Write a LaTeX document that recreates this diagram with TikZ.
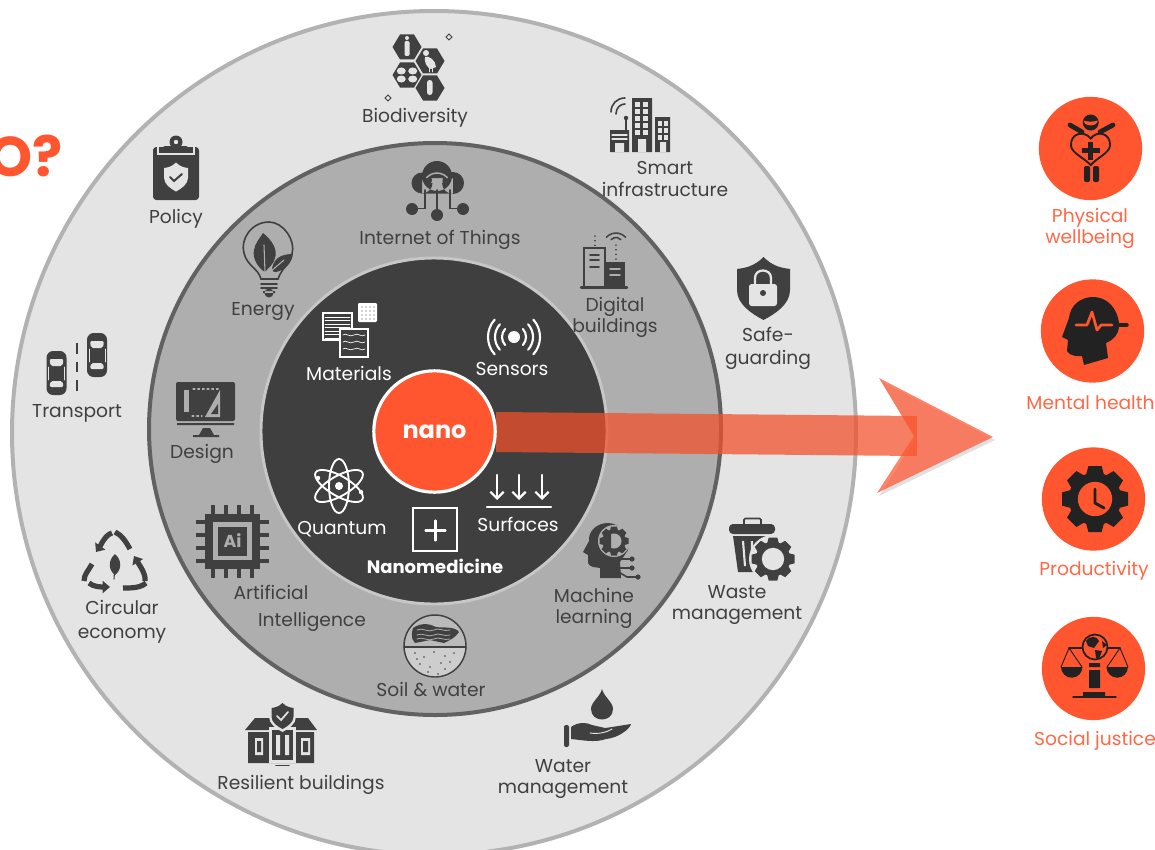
\documentclass[tikz,border=0pt]{standalone}
\usepackage{fontspec}
\setmainfont{Poppins}
\usetikzlibrary{arrows.meta}
\definecolor{nanoor}{HTML}{FF5630}
\definecolor{shaftor}{HTML}{F2512C}
\definecolor{ringa}{HTML}{E4E4E4}
\definecolor{ringb}{HTML}{AEAEAE}
\definecolor{ringc}{HTML}{3F3F3F}
\definecolor{icondk}{HTML}{404040}
\definecolor{iconbk}{HTML}{222222}
\newcommand{\gearshape}[5]{% x, y, radius, hole colour, gear colour
 \begin{scope}[shift={(#1,#2)},scale=#3]
 \foreach \a in {0,45,...,315}
  \fill[#5,rotate=\a] (-.28,.7)--(-.2,1)--(.2,1)--(.28,.7)--cycle;
 \fill[#5] (0,0) circle[radius=.8];
 \fill[#4] (0,0) circle[radius=.52];
 \end{scope}}
\newcommand{\shieldshape}[5]{% x, y, half width, half height, style
 \fill[#5,shift={(#1,#2)},xscale=#3,yscale=#4] (0,-1) .. controls (.35,-.7) and (.7,-.65) .. (1,-.62)
  -- (1,.05) .. controls (1,.5) and (.45,.8) .. (0,1) .. controls (-.45,.8) and (-1,.5) .. (-1,.05)
  -- (-1,-.62) .. controls (-.7,-.65) and (-.35,-.7) .. (0,-1) -- cycle;}
\newcommand{\wifiarc}[4]{% x, y, radius, style
 \draw[#4] (#1,#2) ++(-138:#3) arc[start angle=-138,end angle=-42,radius=#3];}
\newcommand{\carshape}[2]{% x, y of the centre
 \begin{scope}[shift={(#1,#2)}]
 \fill[icondk,rounded corners=5] (-10,-22) rectangle (10,22);
 \fill[ringa,rounded corners=1.5] (-7,-14) -- (7,-14) -- (6,-7) -- (-6,-7) -- cycle;
 \fill[ringa,rounded corners=1.5] (-6,8) -- (6,8) -- (7,14) -- (-7,14) -- cycle;
 \draw[ringa,line width=.6pt] (-8,-6)--(-8,7) (8,-6)--(8,7);
 \end{scope}}
\tikzset{
 lab/.style={font=\fontsize{14}{15.8}\selectfont, text=icondk, align=center, inner sep=0pt},
 inlab/.style={lab, text=white},
 outlab/.style={lab, text=nanoor!90!white},
 ring/.style={line width=3pt},
 thinic/.style={draw=icondk, line width=1.2pt},
 whiteic/.style={draw=white, line width=1.3pt},
 blackic/.style={draw=iconbk, line width=1.2pt},
}
\begin{document}
\begin{tikzpicture}[x=.75pt, y=-.75pt, line cap=round]
\useasboundingbox (0,0) rectangle (1155,849);
% rings
\filldraw[ring, fill=ringa, draw=black!30] (434,433) circle[radius=422];
\filldraw[ring, fill=ringb, draw=black!62] (435,429) circle[radius=286];
\filldraw[line width=2.2pt, fill=ringc, draw=black!22] (434,431) circle[radius=173];
% title rest
\node[anchor=east, inner sep=0pt, text=nanoor] (titleq) at (63,156) {\fontsize{42}{42}\selectfont\bfseries O?};
% arrow
\path[fill=black, opacity=.12] (881,381)--(995,440)--(879,496)--(916,439)--cycle;
\fill[shaftor, fill opacity=.74] (496,412)--(917,416)--(917,456)--(496,452)--cycle;
\fill[nanoor, fill opacity=.72] (879,378)--(993,437)--(877,493)--(914,436)--cycle;
\node[circle, minimum size=91pt, fill=nanoor, draw=white, line width=2.4pt, inner sep=0pt, text=white, font=\fontsize{18}{18}\selectfont] (nano) at (434.5,431.5) {\raisebox{-2pt}{\textbf{nano}}};
% outer ring labels
\node[lab] (biodiv) at (415,118) {Biodiversity};
\node[lab] (smart) at (665,179) {Smart\\infrastructure};
\node[lab] (policy) at (176,219) {Policy};
\node[lab] (safe) at (768,348) {Safe-\\[1.5pt]guarding};
\node[lab] (transport) at (77,413) {Transport};
\node[lab] (waste) at (737,605) {Waste\\management};
\node[lab] (circular) at (122,622) {Circular\\[2pt]economy};
\node[lab] (resilient) at (301,785) {Resilient buildings};
\node[lab] (water) at (563,779) {Water\\management};
% middle ring labels
\node[lab] (iot) at (440,240) {Internet of Things};
\node[lab] (energy) at (263,312) {Energy};
\node[lab] (digital) at (615,317.5) {Digital\\buildings};
\node[lab] (design) at (202,454) {Design};
\node[lab] (artif) at (271,592) {Artificial};
\node[lab] (intel) at (312,622) {Intelligence};
\node[lab] (machine) at (594,608) {Machine\\learning};
\node[lab] (soil) at (431,689) {Soil \& water};
% inner labels
\node[inlab] (materials) at (349,373) {Materials};
\node[inlab] (sensors) at (512,369) {Sensors};
\node[inlab] (quantum) at (342,529) {Quantum};
\node[inlab] (surfaces) at (518,524) {Surfaces};
\node[inlab, font=\fontsize{13.5}{14}\selectfont\bfseries] (nanomed) at (435,566) {Nanomedicine};
% outcome discs and labels
\foreach \nm/\cx/\cy in {physdisc/1090.5/148.5, mentdisc/1092.5/331, proddisc/1093.5/499, socdisc/1093.5/668.5}
 \node[circle, fill=nanoor, minimum size=77.5pt, inner sep=0pt] (\nm) at (\cx,\cy) {};
\node[outlab] (phys) at (1090,228.5) {Physical\\[.5pt]wellbeing};
\node[outlab] (ment) at (1090.5,403) {Mental health};
\node[outlab] (prod) at (1094,571) {Productivity};
\node[outlab] (soc) at (1095,741) {Social justice};

% biodiversity
\foreach \hx/\hy in {407/47,430/61,407/75,430/88}
 \fill[icondk] (\hx-14.5,\hy)--(\hx-7,\hy-12.5)--(\hx+7,\hy-12.5)--(\hx+14.5,\hy)--(\hx+7,\hy+12.5)--(\hx-7,\hy+12.5)--cycle;
\fill[ringa] (407,38) circle[radius=2]; \fill[ringa,rounded corners=1] (404.5,41) rectangle (409.5,56);
\fill[ringa] (426,53) circle[radius=3]; \fill[ringa] (425,57) .. controls (428,55) and (436,60) .. (436,67) -- (431,69) .. controls (427,68) and (424,62) .. (425,57) -- cycle;
\draw[ringa,line width=.7pt] (429,68)--(429,72) (432,68)--(432,72);
\foreach \r in {35,-35,145,215} \fill[ringa] (407,75) ++(\r:7) ellipse[x radius=4.5,y radius=3.5];
\fill[ringa,rounded corners=2] (427,80) rectangle (432.5,95);
\foreach \sx/\sy in {449/37,388/98}
 \draw[icondk,line width=.7pt] (\sx-3,\sy)--(\sx,\sy-3)--(\sx+3,\sy)--(\sx,\sy+3)--cycle;
% smart infrastructure
\fill[icondk] (632,98) rectangle (652,152) (655,117) rectangle (670,152) (610,130) rectangle (629,152);
\foreach \wy in {102,109,116,123,130} \foreach \wx in {635,643} \fill[ringa] (\wx,\wy) rectangle ++(5,4.5);
\foreach \wy in {121,128,135} \foreach \wx in {658,664} \fill[ringa] (\wx,\wy) rectangle ++(4,4.5);
\fill[ringa] (638,139) rectangle (646,152) (660,142) rectangle (666,152) (615,143) rectangle (624,152);
\draw[ringa,line width=1pt] (612,135)--(627,135) (612,139)--(627,139);
\draw[thinic] (626,118)--(626,130); \fill[icondk] (626,118) circle[radius=2.2];
\draw[thinic] (616,114) .. controls (616,108) and (620,104) .. (625,104);
\draw[thinic] (611,112) .. controls (611,104) and (617,98) .. (625,98);
% policy
\fill[icondk,rounded corners=2.5] (153,147) rectangle (199,200);
\draw[ringa,line width=.9pt] (158,147)--(158,154)--(194,154)--(194,147);
\fill[icondk] (176,142) circle[radius=6.5];
\fill[icondk,rounded corners=1.5] (163,146) rectangle (188,152);
\fill[ringa] (176,142) circle[radius=2.2];
\shieldshape{176}{177}{12}{14.5}{ringa}
\draw[icondk,line width=1.5pt] (170,177)--(174,181)--(182,174);
% safe-guarding
\shieldshape{763.5}{288.5}{26.5}{31.5}{icondk}
\fill[ringa,rounded corners=2] (749,284) rectangle (777,306);
\draw[ringa,line width=1.7pt] (755,285)--(755,278) .. controls (755,268) and (771,268) .. (771,278)--(771,285);
\fill[icondk] (763,293) circle[radius=3];
% transport
\carshape{56.5}{373}
\carshape{97}{355}
\draw[thinic, dash pattern=on 8pt off 6pt, line cap=butt] (77,343)--(77,395);
% waste management
\draw[icondk,line width=1.2pt,rounded corners=1] (744,524)--(744,518.5)--(761,518.5)--(761,524);
\fill[icondk,rounded corners=3] (729,524) rectangle (775,534);
\fill[icondk] (733,536)--(772,536)--(766,572)--(738,572)--cycle;
\draw[ringa,line width=1.6pt,line cap=butt] (743,541)--(745,566) (752,541)--(752,560);
\fill[ringa] (773,559) circle[radius=24];
\gearshape{773}{559}{21.5}{ringa}{icondk}
% water management
\fill[icondk] (602,689) .. controls (604,697) and (613,702) .. (613,709) .. controls (613,723) and (591,723) .. (591,709) .. controls (591,702) and (600,697) .. (602,689) -- cycle;
\fill[icondk,rounded corners=1.5] (564,725) rectangle (569,747);
\fill[icondk] (571,727) .. controls (578,722) and (586,722) .. (592,725) -- (605,728) -- (612,727) -- (631,724) .. controls (630,729) and (618,738) .. (606,739) .. controls (595,743) and (582,740) .. (571,739) -- cycle;
\draw[ringa,line width=.7pt] (590,733) .. controls (598,734) and (606,733) .. (612,729);
% resilient buildings
\fill[icondk] (245,730)--(255,718)--(308,718)--(317,730)--cycle (248,732) rectangle (314,763);
\fill[ringa] (255,738) rectangle (263,755) (301,738) rectangle (310,755);
\fill[icondk] (257,741) rectangle (261,752) (303,741) rectangle (308,752);
\fill[ringa] (269,727) rectangle (296,763);
\fill[icondk] (272,730) rectangle (293,760);
\fill[ringa] (276,735) rectangle (280,755) (285,735) rectangle (289,755);
\draw[icondk,line width=1.3pt] (276,765.5)--(289,765.5);
\shieldshape{282.5}{716}{13.5}{16}{ringa}
\shieldshape{282.5}{716}{11}{13}{icondk}
\draw[ringa,line width=1.3pt] (277,716)--(281,720)--(288,712);
% circular economy
\draw[icondk,line width=3.9pt,line cap=butt,-{Triangle[length=5.5pt,width=9pt]}] (112,533) .. controls (105,535) and (101,545) .. (96,552);
\draw[icondk,line width=3.9pt,line cap=butt] (115,532) .. controls (122,535) and (126,542) .. (130,549);
\draw[icondk,line width=3.9pt,line cap=butt,-{Triangle[length=5.5pt,width=9pt]}] (145,581) .. controls (146,574) and (140,566) .. (134,556);
\draw[icondk,line width=3.9pt,line cap=butt] (146,583) .. controls (140,588) and (132,588) .. (123,588);
\draw[icondk,line width=3.9pt,line cap=butt,-{Triangle[length=5.5pt,width=9pt]}] (89,583) .. controls (93,587) and (102,587) .. (110,587);
\draw[icondk,line width=3.9pt,line cap=butt] (92,564) .. controls (89,570) and (84,574) .. (84,581);
\fill[icondk] (115,554) .. controls (122,560) and (122,570) .. (115,575) .. controls (108,570) and (108,560) .. (115,554) -- cycle;
\draw[icondk,line width=.8pt] (115,565)--(114,579);
% internet of things
\fill[icondk] (437,176) circle[radius=15] (422,183) circle[radius=10.5] (453,183) circle[radius=11] (422,178) rectangle (453,193.5);
\draw[thinic] (425,190)--(425,208.5)--(414,208.5) (437,190)--(437,213) (450,190)--(450,208.5)--(461,208.5);
\foreach \cx in {412,437,463} \fill[icondk] (\cx,{\cx==437?215:209}) circle[radius=6];
\fill[ringb] (437,185.5) circle[radius=1.8];
\wifiarc{437}{187}{7}{draw=ringb,line width=1.1pt}
\wifiarc{437}{187}{14}{draw=ringb,line width=1.1pt}
% energy
\draw[thinic] (292,254) .. controls (296,240) and (283,222) .. (269,222) .. controls (251,222) and (240,240) .. (244,253) .. controls (247,266) and (258,268) .. (261,279) -- (278,279) .. controls (280,273) and (284,268) .. (288,263);
\foreach \ly in {284,288} \draw[icondk,line width=1.2pt] (261,\ly)--(277,\ly);
\fill[icondk] (263,291) rectangle (275,293) (269,293) circle[radius=4.5];
\fill[icondk] (263,233) .. controls (272,240) and (278,250) .. (275,258) .. controls (274,264) and (268,268) .. (265,272) .. controls (258,268) and (252,258) .. (254,250) .. controls (255,243) and (260,238) .. (263,233) -- cycle;
\fill[icondk] (293,254) .. controls (292,262) and (286,270) .. (276,272) .. controls (272,272) and (271,270) .. (273,265) .. controls (276,256) and (285,254) .. (293,254) -- cycle;
\draw[ringb,line width=.8pt] (264,245)--(265,272) (270,272)--(284,260);
% digital buildings
\draw[thinic] (584,287)--(584,248)--(605,248)--(605,287);
\fill[icondk] (605,262) rectangle (625,287);
\draw[icondk,line width=1.7pt] (581,287.5)--(627,287.5);
\draw[thinic] (590,255)--(599,255) (590,260)--(599,260) (590,267)--(599,267);
\draw[ringb,line width=1.1pt] (610,269)--(620,269) (610,275)--(620,275);
\wifiarc{616}{244}{6.5}{icondk,line width=1.1pt}
\wifiarc{616}{246}{13}{icondk,line width=1.1pt}
\draw[icondk,line width=1.1pt,dash pattern=on .1pt off 3.4pt] (616,245)--(616,261) (595,236)--(595,246);
% design
\fill[icondk,rounded corners=1.5] (176,382) rectangle (235,421);
\fill[icondk] (177,423) rectangle (234,425) (203,428)--(210,428)--(214,435)--(199,435)--cycle (193,435) rectangle (219,437);
\fill[ringb] (184,390) rectangle (188.5,412);
\fill[ringb] (220,390)--(220,417)--(205,417)--cycle;
\fill[icondk] (218,404)--(218,414)--(211,414)--cycle;
\draw[ringb,line width=.8pt,dash pattern=on 1.5pt off 2pt] (193,389)--(219,389) (192,416)--(202,416);
% artificial intelligence
\foreach \pp in {213,226,239,252} {
 \draw[icondk,line width=2.5pt,line cap=butt] (\pp,505)--(\pp,578);
 \draw[icondk,line width=2.5pt,line cap=butt] (196,\pp+309)--(269,\pp+309);
}
\fill[icondk] (205,514) rectangle (260,569);
\fill[ringb] (213,522) rectangle (252,560);
\fill[icondk] (218,527) rectangle (247,556);
\node[inner sep=0pt, text=ringb, font=\fontsize{13}{13}\selectfont\bfseries] (ainame) at (232.5,541) {Ai};
% machine learning
\fill[icondk] (608,523) .. controls (596,523) and (588,532) .. (589,541) -- (583,552) -- (588,555) -- (588,563) .. controls (590,568) and (596,567) .. (600,568) -- (600,578) -- (621,578) -- (620,562) -- (628,550) .. controls (630,535) and (620,523) .. (608,523) -- cycle;
\fill[ringb] (614,541) circle[radius=16];
\gearshape{614}{541}{14.5}{ringb}{icondk}
\fill[icondk] (611,534) arc[start angle=-90,end angle=-270,radius=7] -- cycle;
\draw[thinic] (616,559)--(632,559) (616,568)--(632,568) (617,571)--(627,577)--(638,577);
\fill[icondk] (632,559) circle[radius=2.6] (632,568) circle[radius=2.6] (638,577) circle[radius=2.6];
% soil and water
\fill[ringb!85!white] (404,646) arc[start angle=180,end angle=360,radius=31] -- cycle;
\fill[icondk] (413,628) .. controls (422,622) and (430,624) .. (436,627) .. controls (442,628) and (455,626) .. (459,632) .. controls (455,638) and (450,640) .. (444,643) -- (430,640) -- (415,643) .. controls (410,638) and (412,632) .. (413,628) -- cycle;
\foreach \wy in {630,635,639} \draw[ringb,line width=.6pt] (417,\wy) .. controls (422,\wy-3) and (428,\wy+3) .. (434,\wy) .. controls (438,\wy-3) and (444,\wy+2) .. (450,\wy);
\fill[ringa!90!black] (404,647) arc[start angle=180,end angle=0,radius=31] -- cycle;
\foreach \dx/\dy in {415/653,424/657,434/652,445/656,454/653,420/664,430/667,441/663,450/662,428/672,438/674,445/669,417/659}
 \fill[icondk] (\dx,\dy) circle[radius=.9];
\draw[icondk,line width=1.1pt] (435,646) circle[radius=31];
\draw[icondk,line width=1.1pt] (404,647)--(466,647);
% materials
\draw[whiteic] (323,313) rectangle (352,340);
\foreach \ly in {317,320.5,...,338} \draw[white,line width=.5pt] (325,\ly)--(350,\ly);
\filldraw[whiteic,fill=ringc] (340,329) rectangle (368,357);
\foreach \ly in {335,342,349} \draw[white,line width=.5pt] (343,\ly) .. controls (346,\ly-3) and (349,\ly+3) .. (354,\ly) .. controls (358,\ly-3) and (361,\ly+3) .. (365,\ly);
\fill[white,rounded corners=.8] (358,303) rectangle (377,322);
\foreach \dx in {362,366,370,374} \foreach \dy in {307,311,315,319} \fill[ringc] (\dx,\dy) circle[radius=.7];
% sensors
\fill[white] (514,337) circle[radius=6];
\foreach \r in {12,19,26} {
 \draw[white,line width=1.6pt] (514,337) ++(-42:\r) arc[start angle=-42,end angle=42,radius=\r];
 \draw[white,line width=1.6pt] (514,337) ++(138:\r) arc[start angle=138,end angle=222,radius=\r];
}
% quantum
\foreach \r in {90,30,-30} \draw[white,line width=1.4pt,rotate around={\r:(339,486)}] (339,486) ellipse[x radius=27,y radius=10];
\fill[white] (339,486) circle[radius=4] (318,478) circle[radius=2.2] (361,492) circle[radius=2.2];
% nanomedicine
\draw[whiteic,line cap=butt] (413,508) rectangle (457,551);
\draw[white,line width=1.6pt] (425.5,530.5)--(445.5,530.5) (435.5,520.5)--(435.5,540.5);
% surfaces
\foreach \ax in {497,519,542} \draw[white,line width=1.7pt,-{Straight Barb[length=5pt,width=10pt]}] (\ax,475)--(\ax,500);
\draw[white,line width=1.7pt] (487,507)--(551,507);
% physical wellbeing
\draw[iconbk,line width=3.6pt] (1070,125)--(1082,132) (1113,125)--(1100,132);
\fill[iconbk] (1090.7,122.5) circle[radius=8];
\fill[nanoor] (1083.7,120.5) .. controls (1087,122) and (1094,122) .. (1097.7,120.5) .. controls (1097.7,127) and (1083.7,127) .. (1083.7,120.5) -- cycle;
\draw[iconbk,line width=1.4pt] (1090.7,138.5) .. controls (1084,130) and (1070,133) .. (1071,146) .. controls (1072,153) and (1084,158) .. (1090.7,165) .. controls (1097,158) and (1109,153) .. (1110,146) .. controls (1111,133) and (1097,130) .. (1090.7,138.5) -- cycle;
\draw[iconbk,line width=3.4pt,line cap=butt] (1081.7,150.7)--(1099.7,150.7) (1090.7,141.7)--(1090.7,159.7);
\fill[iconbk,rounded corners=1.5] (1084,166) rectangle (1090,182) (1093,166) rectangle (1099,182);
% mental health
\fill[iconbk] (1084,365) -- (1108,358) -- (1106,343) .. controls (1118,338) and (1121,328) .. (1118,318) .. controls (1114,303) and (1103,297) .. (1093,297) .. controls (1080,297) and (1070,306) .. (1069,318) -- (1062,337) -- (1068,340) -- (1067,351) .. controls (1071,357) and (1078,356) .. (1082,356) -- cycle;
\draw[iconbk,line width=2.6pt] (1110,325)--(1127,325);
\draw[nanoor,line width=2pt,line join=round] (1076,325)--(1087,325)--(1092,312)--(1097,330)--(1101,325)--(1112,325);
% productivity
\gearshape{1095}{499}{33}{nanoor}{iconbk}
\draw[iconbk,line width=2.2pt,line join=round] (1095,489)--(1095,503)--(1104,508);
% social justice
\draw[iconbk,line width=1.2pt] (1069,648)--(1120,648);
\draw[iconbk,line width=.7pt] (1061,667)--(1069,648)--(1082,667) (1107,667)--(1120,648)--(1128,667);
\fill[iconbk] (1061,667) arc[start angle=180,end angle=0,radius=10.7] -- cycle;
\fill[iconbk] (1106.5,667) arc[start angle=180,end angle=0,radius=10.7] -- cycle;
\filldraw[fill=nanoor,draw=iconbk,line width=1.3pt] (1095,647) circle[radius=12.5];
\fill[iconbk] (1086,641) .. controls (1090,635) and (1097,636) .. (1099,641) -- (1094,648) -- (1088,646) -- cycle (1095,650) -- (1102,651) -- (1099,659) -- (1096,658) -- cycle (1102,641) -- (1107,645) -- (1103,648) -- cycle;
\fill[iconbk] (1089,663) rectangle (1100,667) (1089,670) rectangle (1100,688) (1083,692) rectangle (1105,697);
\draw[iconbk,line width=1.1pt] (1073,697)--(1116,697);
\end{tikzpicture}
\end{document}
